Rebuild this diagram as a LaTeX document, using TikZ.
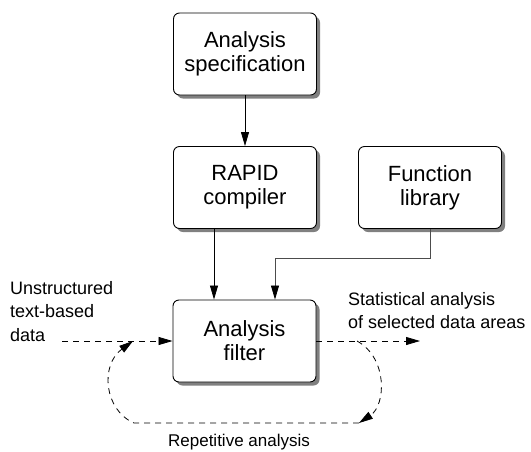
\documentclass[tikz,border=0pt]{standalone}
\usepackage{fontspec}
\setmainfont{Liberation Sans}
\usetikzlibrary{arrows.meta,calc}
\begin{document}
\begin{tikzpicture}[x=1pt,y=-1pt,
  box/.style={draw=black, line width=0.9pt, rounded corners=6pt, fill=white,
    minimum width=143pt, minimum height=82pt, inner sep=0pt, align=center,
    font=\fontsize{22}{24}\selectfont},
  shadowbox/.style={fill=black!50, rounded corners=6pt, minimum width=143pt, minimum height=82pt, inner sep=0pt},
  arr/.style={line width=0.8pt, -{Triangle[length=14pt,width=8pt,color=black]}},
  darr/.style={line width=0.8pt, dash pattern=on 6pt off 5pt, -{Triangle[length=14pt,width=8pt]}},
  lbl/.style={inner sep=0pt, align=left, font=\fontsize{18}{23.5}\selectfont},
]
\useasboundingbox (0,0) rectangle (531,451);
% shadows
\foreach \cx/\cy in {245/54, 245/187.5, 430/187.5, 244.5/341}
  \node[shadowbox] at (\cx+3.5,\cy+3.5) {};
% boxes
\node[box] (spec) at (245,54) {Analysis\\specification};
\node[box] (rapid) at (245,187.5) {RAPID\\compiler};
\node[box] (lib) at (430,187.5) {Function\\library};
\node[box] (filter) at (244.5,341) {Analysis\\filter};
% connectors
\draw[arr] (spec) -- (rapid);
\coordinate (rx) at (214,0);
\draw[arr] (rx |- rapid.south) -- (rx |- filter.north);
\coordinate (bend) at (275,258);
\draw[arr, draw=black!70] (lib.south) |- (bend) -- (bend |- filter.north);
% input / output
\coordinate (in) at (62,341);
\coordinate (out) at (420,341);
\draw[darr] (in) -- (filter.west);
\draw[darr] (filter.east) -- (out);
% loop
\coordinate (lr) at (357,341);
\coordinate (lb) at (359,423);
\coordinate (lbl) at (134,423);
\coordinate (ll) at (133,341);
\draw[darr] (lr) .. controls (388,358) and (386,405) .. (lb);
\draw[darr] (lb) -- (lbl) .. controls (104,410) and (100,365) .. (ll);
% labels
\node[lbl, anchor=north west] (t1) at (10,281) {Unstructured\\text-based\\data};
\node[lbl, anchor=north west] (t2) at (348,292) {Statistical analysis\\of selected data areas};
\node[lbl, anchor=base, font=\fontsize{17}{20}\selectfont] (t3) at (239,446) {Repetitive analysis};
\end{tikzpicture}
\end{document}
